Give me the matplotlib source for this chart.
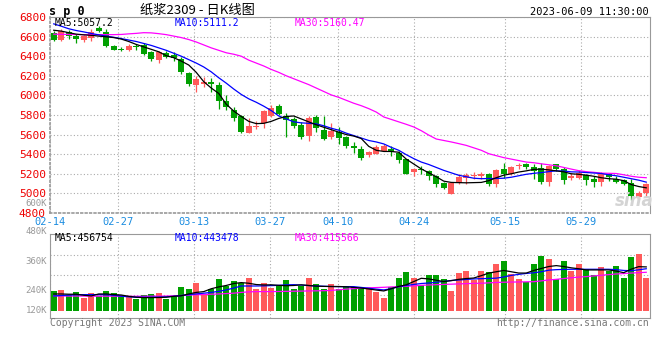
import numpy as np
import matplotlib.pyplot as plt

plt.rcParams['font.family'] = ['DejaVu Sans Mono', 'Noto Sans CJK SC']

# --- Daily OHLC ---
opens = [6640, 6570, 6645, 6605, 6568, 6590, 6685, 6645, 6505, 6470,
         6465, 6505, 6510, 6445, 6360, 6430, 6415, 6375, 6225, 6110,
         6120, 6138, 6105, 5940, 5855, 5785, 5617, 5678, 5714, 5785,
         5895, 5790, 5760, 5700, 5588, 5775, 5650, 5580, 5630, 5578,
         5485, 5458, 5396, 5407, 5435, 5450, 5417, 5350, 5220, 5240,
         5227, 5180, 5110, 4992, 5111, 5155, 5178, 5180, 5203, 5101,
         5247, 5203, 5278, 5298, 5274, 5264, 5118, 5298, 5254, 5155,
         5155, 5186, 5152, 5118, 5196, 5152, 5138, 5111, 4968, 5002]
highs = [6656, 6680, 6670, 6625, 6620, 6680, 6705, 6680, 6515, 6495,
         6520, 6525, 6530, 6455, 6450, 6450, 6440, 6390, 6240, 6195,
         6185, 6175, 6135, 6000, 5885, 5800, 5767, 5735, 5850, 5907,
         5913, 5820, 5776, 5725, 5793, 5795, 5786, 5718, 5675, 5590,
         5527, 5485, 5430, 5490, 5500, 5485, 5434, 5355, 5264, 5281,
         5240, 5186, 5118, 5110, 5196, 5213, 5223, 5223, 5213, 5245,
         5308, 5280, 5308, 5315, 5298, 5308, 5290, 5300, 5270, 5213,
         5240, 5203, 5179, 5220, 5213, 5179, 5145, 5145, 5026, 5111]
lows = [6556, 6555, 6575, 6535, 6548, 6556, 6648, 6490, 6460, 6450,
        6450, 6460, 6410, 6350, 6335, 6385, 6350, 6215, 6100, 6035,
        6085, 6035, 5860, 5855, 5740, 5617, 5615, 5660, 5665, 5780,
        5795, 5580, 5663, 5560, 5535, 5630, 5550, 5560, 5505, 5460,
        5417, 5340, 5375, 5400, 5430, 5383, 5308, 5200, 5180, 5203,
        5138, 5070, 5043, 4990, 5094, 5100, 5145, 5150, 5077, 5067,
        5162, 5186, 5247, 5247, 5145, 5094, 5077, 5230, 5094, 5138,
        5145, 5084, 5067, 5077, 5128, 5111, 5087, 4934, 4941, 4968]
closes = [6566, 6655, 6605, 6578, 6605, 6650, 6655, 6500, 6468, 6465,
          6505, 6490, 6420, 6370, 6440, 6395, 6385, 6240, 6120, 6165,
          6133, 6120, 5940, 5878, 5770, 5627, 5684, 5688, 5840, 5870,
          5810, 5752, 5690, 5578, 5770, 5665, 5555, 5632, 5565, 5485,
          5465, 5362, 5424, 5475, 5485, 5424, 5342, 5203, 5247, 5237,
          5180, 5095, 5060, 5104, 5169, 5186, 5186, 5196, 5100, 5237,
          5203, 5274, 5282, 5274, 5230, 5118, 5281, 5247, 5138, 5179,
          5213, 5138, 5118, 5203, 5172, 5118, 5101, 4975, 5002, 5094]

# moving averages as drawn on the chart
ma5 = [6665, 6656, 6640, 6625, 6618, 6613, 6605, 6598, 6590, 6575,
       6550, 6520, 6495, 6470, 6445, 6405, 6385, 6350, 6310, 6235,
       6140, 6075, 6020, 5910, 5840, 5785, 5735, 5712, 5715, 5735,
       5765, 5785, 5790, 5760, 5730, 5700, 5675, 5650, 5625, 5600,
       5585, 5560, 5480, 5440, 5428, 5428, 5420, 5350, 5300, 5250,
       5210, 5170, 5125, 5112, 5110, 5108, 5110, 5112, 5130, 5160,
       5186, 5200, 5218, 5230, 5245, 5247, 5240, 5230, 5220, 5200,
       5195, 5186, 5175, 5160, 5150, 5145, 5130, 5090, 5070, 5057]
ma10 = [6730, 6706, 6680, 6662, 6648, 6632, 6618, 6605, 6593, 6580,
        6565, 6550, 6530, 6510, 6485, 6460, 6430, 6400, 6365, 6330,
        6290, 6240, 6180, 6125, 6065, 6010, 5965, 5930, 5890, 5845,
        5790, 5760, 5730, 5720, 5715, 5710, 5690, 5665, 5645, 5615,
        5590, 5565, 5540, 5525, 5505, 5470, 5440, 5395, 5355, 5320,
        5295, 5265, 5235, 5210, 5185, 5170, 5155, 5150, 5152, 5152,
        5155, 5165, 5180, 5195, 5205, 5212, 5222, 5230, 5228, 5220,
        5218, 5213, 5208, 5203, 5190, 5180, 5165, 5150, 5135, 5115]
ma30 = [6625, 6623, 6622, 6621, 6620, 6620, 6620, 6620, 6620, 6622,
        6628, 6633, 6640, 6638, 6630, 6620, 6605, 6590, 6570, 6545,
        6515, 6485, 6460, 6435, 6420, 6400, 6360, 6330, 6300, 6265,
        6235, 6200, 6170, 6140, 6110, 6075, 6040, 6005, 5980, 5950,
        5920, 5895, 5865, 5830, 5780, 5755, 5730, 5705, 5678, 5640,
        5595, 5555, 5540, 5525, 5508, 5490, 5465, 5440, 5405, 5385,
        5365, 5350, 5335, 5320, 5313, 5302, 5292, 5282, 5265, 5248,
        5232, 5222, 5215, 5207, 5205, 5203, 5190, 5175, 5165, 5160]

# --- Volume (thousand lots) ---
volumes = [273, 281, 242, 265, 219, 258, 232, 273, 258, 240,
           237, 212, 240, 250, 258, 212, 232, 303, 288, 334,
           250, 288, 365, 309, 350, 334, 372, 288, 334, 296,
           317, 357, 288, 311, 372, 324, 288, 327, 286, 306,
           306, 294, 294, 268, 222, 306, 375, 418, 375, 317,
           395, 395, 362, 273, 411, 426, 357, 426, 418, 482,
           503, 405, 365, 344, 482, 541, 518, 362, 503, 426,
           482, 439, 395, 457, 426, 464, 372, 535, 558, 372]
vma5 = [250, 250, 248, 248, 240, 235, 250, 250, 245, 242,
        232, 225, 222, 222, 223, 225, 232, 236, 250, 262,
        268, 290, 304, 315, 330, 337, 332, 322, 319, 320,
        316, 313, 315, 320, 315, 310, 308, 307, 307, 305,
        300, 295, 288, 280, 273, 290, 308, 320, 345, 370,
        365, 355, 345, 352, 362, 368, 372, 390, 410, 420,
        430, 420, 410, 410, 430, 445, 460, 467, 460, 450,
        443, 434, 434, 434, 434, 425, 413, 440, 459, 457]
vma10 = [235, 238, 241, 244, 245, 245, 245, 244, 240, 233,
         228, 225, 225, 225, 226, 228, 232, 238, 245, 250,
         256, 262, 270, 281, 295, 311, 311, 311, 312, 314,
         316, 320, 321, 318, 314, 311, 309, 307, 306, 306,
         306, 300, 294, 287, 281, 290, 306, 315, 323, 330,
         334, 339, 346, 353, 357, 361, 365, 367, 369, 371,
         380, 392, 400, 407, 412, 420, 432, 436, 438, 439,
         439, 439, 439, 439, 439, 436, 430, 428, 435, 443]
vma30 = [235, 235, 234, 234, 234, 233, 233, 233, 233, 233,
         232, 232, 232, 233, 233, 234, 236, 238, 241, 244,
         246, 248, 250, 253, 256, 262, 266, 268, 268, 268,
         269, 270, 271, 272, 273, 274, 275, 277, 282, 287,
         291, 294, 297, 299, 301, 304, 306, 309, 312, 316,
         319, 321, 323, 325, 327, 329, 331, 332, 335, 338,
         340, 341, 342, 343, 344, 350, 357, 362, 368, 374,
         379, 383, 388, 393, 398, 403, 406, 410, 413, 416]

tick_idx = [0, 9, 19, 29, 38, 48, 60, 70]
tick_labels = ["02-14", "02-27", "03-13", "03-27", "04-10", "04-24", "05-15", "05-29"]
price_ticks = [4800, 5000, 5200, 5400, 5600, 5800, 6000, 6200, 6400, 6600, 6800]
vol_labels = ["600K", "480K", "360K", "240K", "120K"]

RED = "#ff5a5a"
GREEN = "#00a000"
GRID = "#aaaaaa"
W, H = 660, 360


def box(x0, y0, x1, y1):
    return [x0 / W, 1 - y1 / H, (x1 - x0) / W, (y1 - y0) / H]


def ftext(x, y, s, **kw):
    fig.text(x / W, 1 - y / H, s, va="center", **kw)


fig = plt.figure(figsize=(6.6, 3.6), dpi=100)
axp = fig.add_axes(box(50, 17, 650, 213))
axv = fig.add_axes(box(50, 234, 650, 318))

o = np.array(opens)
c = np.array(closes)
x = np.arange(len(c))
cols = np.where(c >= o, RED, GREEN)
grid_x = [i * 7.58 / 7.5 - 0.5 for i in tick_idx]

# --- price panel ---
axp.vlines(x, lows, highs, colors=cols, linewidth=0.9, zorder=2)
axp.bar(x, np.maximum(np.abs(c - o), 8), bottom=np.minimum(o, c),
        width=0.8, color=cols, linewidth=0, zorder=3)
axp.plot(x, ma30, color="#ff00ff", lw=0.9, zorder=4)
axp.plot(x, ma10, color="#0000ff", lw=0.9, zorder=4)
axp.plot(x, ma5, color="black", lw=0.9, zorder=4)

axp.set_xlim(-0.5, 79.5)
axp.set_ylim(4800, 6800)
axp.set_yticks(price_ticks)
axp.set_yticklabels([str(v) for v in price_ticks], color="#ee0000", fontsize=8)
axp.set_xticks(grid_x)
axp.set_xticklabels(tick_labels, color="#1a8ce0", fontsize=7.5)
axp.tick_params(axis="y", length=0, pad=3)
axp.tick_params(axis="x", length=0, pad=3)
axp.grid(True, color=GRID, linestyle=(0, (1, 2)), linewidth=0.8)
axp.set_axisbelow(True)
for s in ["top", "right"]:
    axp.spines[s].set_color("#999999")
for s in ["left", "bottom"]:
    axp.spines[s].set_color("#999999")
    axp.spines[s].set_linestyle(":")
    axp.spines[s].set_linewidth(1.2)

# --- volume panel ---
vol_base = 120
axv.bar(x, np.array(volumes) - vol_base, bottom=vol_base, width=0.8,
        color=cols, linewidth=0, zorder=3)
axv.plot(x, vma30, color="#ff00ff", lw=0.9, zorder=4)
axv.plot(x, vma10, color="#0000ff", lw=0.9, zorder=4)
axv.plot(x, vma5, color="black", lw=0.9, zorder=4)
axv.set_xlim(-0.5, 79.5)
axv.set_ylim(66, 709)
axv.set_yticks([242, 395, 548])
axv.set_xticks(grid_x)
axv.set_yticklabels([])
axv.set_xticklabels([])
axv.tick_params(length=0)
axv.grid(True, color=GRID, linestyle=(0, (1, 2)), linewidth=0.8)
axv.set_axisbelow(True)
for s in axv.spines.values():
    s.set_color("#999999")

# --- header / legends ---
ftext(49, 11, "s p 0", fontsize=8.5, fontweight="bold")
ftext(140, 10, "纸浆2309 - 日K线图", fontsize=9.5,
      family=["Noto Sans CJK SC", "DejaVu Sans"])
ftext(649, 12, "2023-06-09 11:30:00", fontsize=7.5, ha="right")

ftext(55, 23.5, "MA5:5057.2", fontsize=7, color="black")
ftext(175, 23.5, "MA10:5111.2", fontsize=7, color="#0000ff")
ftext(295, 23.5, "MA30:5160.47", fontsize=7, color="#ff00ff")

ftext(55, 238, "MA5:456754", fontsize=7, color="black")
ftext(175, 238, "MA10:443478", fontsize=7, color="#0000ff")
ftext(295, 238, "MA30:415566", fontsize=7, color="#ff00ff")

for lab, yy in zip(vol_labels, [203, 231, 261, 290.5, 310.5]):
    ftext(47, yy, lab, fontsize=6.5, color="#999999", ha="right")

ftext(634, 201, "sina", fontsize=12, color="#d4d4d4", ha="center",
      fontweight="bold", style="italic", family=["DejaVu Sans"])

ftext(50, 323, "Copyright 2023 SINA.COM", fontsize=7, color="#777777")
ftext(649, 323, "http://finance.sina.com.cn", fontsize=7, color="#777777", ha="right")

fig.savefig("out.png", dpi=100, facecolor="white")
